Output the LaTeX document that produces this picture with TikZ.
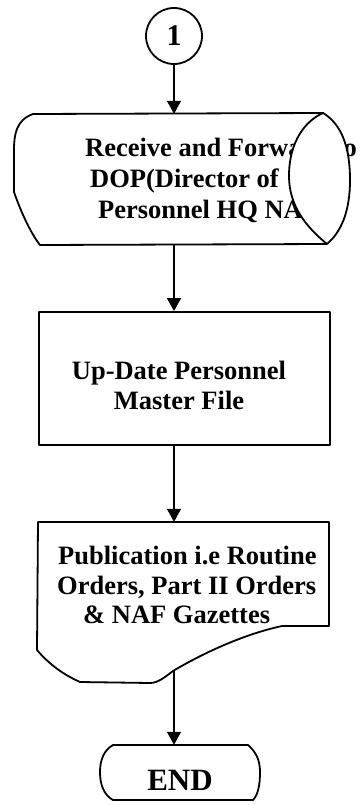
\documentclass[tikz,border=0pt]{standalone}
\usepackage{fontspec}
\setmainfont{Liberation Serif}
\usetikzlibrary{arrows.meta}
\begin{document}
\begin{tikzpicture}[x=1pt,y=-1pt,
  outline/.style={draw=black, line width=1.8pt, line join=round},
  arr/.style={draw=black, line width=1.3pt, -{Triangle[width=14pt,length=13pt]}},
  area/.style={draw=none, inner sep=0pt, rectangle},
  lbl/.style={font=\fontsize{26.5}{30}\selectfont\bfseries, inner sep=0pt, anchor=base west},
  ctr/.style={font=\fontsize{26.5}{30}\selectfont\bfseries, inner sep=0pt, anchor=base},
]
\useasboundingbox (0,0) rectangle (359,805);

% connector circle
\node[circle, draw=black, line width=1.8pt, minimum size=56pt, inner sep=0pt,
      font=\fontsize{30}{30}\selectfont\bfseries] (c1) at (174,36) {1};

% stored-data box: receive and forward
\node[area, minimum width=294pt, minimum height=131pt] (recv) at (180,179.5) {};
\draw[outline] (323,113) -- (33,114)
  .. controls (16,120) and (14,135) .. (14,150) -- (14,192)
  .. controls (22,215) and (32,235) .. (40,245) -- (327,244);
\node[lbl] (r1) at (85,157) {Receive and Forward to};
\node[lbl] (r2) at (90,188) {DOP(Director of};
\node[lbl] (r3) at (98,218) {Personnel HQ NAF)};
% lens-shaped end of the stored-data symbol
\draw[outline, fill=white] (323,113)
  .. controls (343,125) and (350,150) .. (350,180)
  .. controls (350,212) and (341,232) .. (327,244)
  .. controls (305,226) and (289,205) .. (289,176)
  .. controls (289,142) and (305,121) .. (323,113) -- cycle;

% process box: update master file
\node[outline, rectangle, inner sep=0pt, minimum width=291pt, minimum height=133pt] (upd) at (184.5,378.5) {};
\node[ctr] (u1) at (179,379) {Up-Date Personnel};
\node[ctr] (u2) at (179,409) {Master File};

% document box: publication
\node[area, minimum width=291pt, minimum height=161pt] (pub) at (183.5,602.5) {};
\draw[outline] (38,522) -- (329,522) -- (329,626) -- (282,626)
  .. controls (245,634) and (205,652) .. (173,671)
  .. controls (165,677) and (158,683) .. (150,683) -- (80,682)
  .. controls (62,674) and (48,663) .. (37,650) -- cycle;
\coordinate (pubbot) at (174,670);
\node[lbl] (p1) at (58,564) {Publication i.e Routine};
\node[lbl] (p2) at (57,594) {Orders, Part II Orders};
\node[lbl] (p3) at (83,623) {\& NAF Gazettes};

% terminator: end
\node[area, minimum width=160pt, minimum height=55pt] (endn) at (180,772.5) {};
\draw[outline] (113,745) -- (248,745)
  .. controls (256,752) and (260,760) .. (260,772)
  .. controls (260,785) and (258,795) .. (253,800) -- (113,800)
  .. controls (104,795) and (100,785) .. (100,772)
  .. controls (100,760) and (104,750) .. (113,745) -- cycle;
\node[font=\fontsize{31}{31}\selectfont\bfseries, inner sep=0pt, anchor=base] (endt) at (180,790) {END};

% connectors
\draw[arr] (c1.south) -- (c1.south |- recv.north);
\draw[arr] (recv.south -| c1) -- (upd.north -| c1);
\draw[arr] (upd.south -| c1) -- (pub.north -| c1);
\draw[arr] (pubbot) -- (pubbot |- endn.north);
\end{tikzpicture}
\end{document}
